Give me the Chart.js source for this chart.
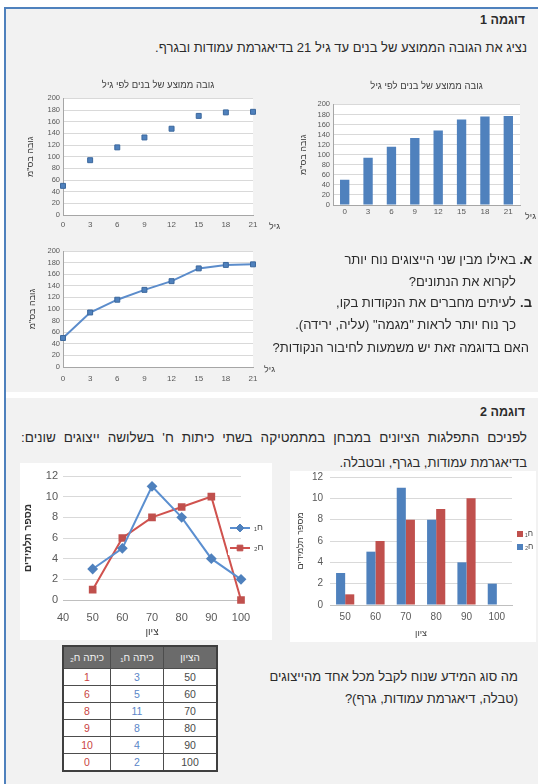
<!DOCTYPE html>
<html lang="he">
<head>
<meta charset="utf-8">
<title>דוגמאות לייצוג נתונים</title>
<script src="https://cdn.jsdelivr.net/npm/chart.js@4.4.1/dist/chart.umd.min.js"></script>
<style>
  html, body { margin: 0; padding: 0; background: #fff; }
  body { width: 538px; height: 784px; position: relative; overflow: hidden;
         font-family: "Liberation Sans", Arial, sans-serif; color: #2b2b2b; }
  .box { position: absolute; left: 6px; width: 532px; background: #f2f2f2; }
  #box1 { top: 9px; height: 383px; }
  #box2 { top: 398px; height: 386px; }
  #edge-left { position: absolute; left: 4px; top: 7px; width: 2px; height: 777px; background: #4f81bd; }
  #edge-top { position: absolute; left: 4px; top: 7px; width: 534px; height: 2px; background: #4f81bd; }
  .t { position: absolute; direction: rtl; white-space: nowrap; font-size: 13px; line-height: 15px; }
  .b { font-weight: bold; font-size: 12.5px; }
  .just { text-align: justify; text-align-last: justify; }
  canvas { position: absolute; }
  .white { background: #fff; }
  .panel { position: absolute; background: #fff; }
  table { position: absolute; border-collapse: collapse; direction: rtl;
          font-family: "Liberation Sans", Arial, sans-serif; background: #fff; border: 2px solid #3f3f3f; }
  th, td { border: 1px solid #4d4d4d; text-align: center; padding: 0; }
  th { background: #6b6b6b; color: #f2f2f2; font-weight: normal; font-size: 10px; height: 21px; }
  td { font-size: 10.5px; height: 16px; color: #4a4a4a; }
  td.ca { color: #5a86c8; }
  td.cb { color: #c9443f; }
</style>
</head>
<body>
<div id="box1" class="box"></div>
<div id="box2" class="box"></div>
<div id="edge-left"></div>
<div id="edge-top"></div>

<div class="t b" style="right:13px; top:13px;">דוגמה 1</div>
<div class="t" style="right:11px; top:40px;">נציג את הגובה הממוצע של בנים עד גיל 21 בדיאגרמת עמודות ובגרף.</div>

<canvas id="barAge" width="244" height="150" style="left:292px; top:76px;"></canvas>
<canvas id="dotAge" width="262" height="160" style="left:20px; top:74px;"></canvas>
<canvas id="lineAge" width="262" height="150" style="left:20px; top:240px;"></canvas>
<div class="t" style="right:2px; top:209px; font-size:9px; color:#404040;">גיל</div>
<div class="t" style="right:258px; top:219px; font-size:9px; color:#404040;">גיל</div>
<div class="t" style="right:263px; top:362px; font-size:9px; color:#404040;">גיל</div>

<div class="t b" style="right:6px; top:252px; font-size:13px;">א.</div>
<div class="t" style="right:22px; top:252px;">באילו מבין שני הייצוגים נוח יותר</div>
<div class="t" style="right:22px; top:274px;">לקרוא את הנתונים?</div>
<div class="t b" style="right:6px; top:295px; font-size:13px;">ב.</div>
<div class="t" style="right:22px; top:295px;">לעיתים מחברים את הנקודות בקו,</div>
<div class="t" style="right:22px; top:317px;">כך נוח יותר לראות "מגמה" (עליה, ירידה).</div>
<div class="t" style="right:9px; top:340px;">האם בדוגמה זאת יש משמעות לחיבור הנקודות?</div>

<div class="t b" style="right:13px; top:405px;">דוגמה 2</div>
<div class="t just" style="right:11px; top:430px; width:506px; font-size:13.5px;">לפניכם התפלגות הציונים במבחן במתמטיקה בשתי כיתות ח' בשלושה ייצוגים שונים:</div>
<div class="t" style="right:11px; top:455px;">בדיאגרמת עמודות, בגרף, ובטבלה.</div>

<div class="panel" style="left:290px; top:471px; width:246px; height:171px;"></div>
<canvas id="barGrades" width="246" height="180" style="left:290px; top:462px;"></canvas>
<canvas id="lineGrades" class="white" width="252" height="177" style="left:20px; top:463px;"></canvas>

<table id="gradeTable" style="left:62px; top:645px; width:156px;"></table>

<div class="t" style="right:20px; top:669px;">מה סוג המידע שנוח לקבל מכל אחד מהייצוגים</div>
<div class="t" style="right:20px; top:691px;">(טבלה, דיאגרמת עמודות, גרף)?</div>

<script>
// Average height of boys by age (cm)
const ages = [0, 3, 6, 9, 12, 15, 18, 21];
const ageLabels = ['0', '3', '6', '9', '12', '15', '18', '21'];
const heightCm = [50, 94, 116, 133, 148, 170, 176, 177];

// Math test grades in two 8th-grade classes
const grades = [50, 60, 70, 80, 90, 100];
const gradeLabels = ['50', '60', '70', '80', '90', '100'];
const classA = [3, 5, 11, 8, 4, 2];
const classB = [1, 6, 8, 9, 10, 0];

const heightTicks = [0, 20, 40, 60, 80, 100, 120, 140, 160, 180, 200];

const BLUE = '#4f81bd';
const RED = '#c0504d';
const FONT = '"Liberation Sans", Arial, sans-serif';
Chart.defaults.font.family = FONT;
Chart.defaults.animation = false;
Chart.defaults.plugins.tooltip.enabled = false;

// white plot area
const plotFill = {
  id: 'plotFill',
  beforeDraw(chart) {
    const { ctx, chartArea: a } = chart;
    ctx.save();
    ctx.fillStyle = '#ffffff';
    ctx.fillRect(a.left, a.top, a.right - a.left, a.bottom - a.top);
    ctx.restore();
  }
};

// keep the chart title centred over the plot area
const titleOverPlot = {
  id: 'titleOverPlot',
  afterLayout(chart) {
    const t = chart.titleBlock;
    const a = chart.chartArea;
    if (t && a) { t.left = a.left; t.right = a.right; t.width = a.right - a.left; }
  }
};

// legend placed at a fixed spot beside the plot
const sideKey = {
  id: 'sideKey',
  afterDraw(chart, args, o) {
    if (!o || !o.order) return;
    const ctx = chart.ctx;
    ctx.save();
    ctx.font = (o.size || 10) + 'px ' + FONT;
    ctx.textBaseline = 'middle';
    ctx.textAlign = 'left';
    o.order.forEach((di, row) => {
      const ds = chart.data.datasets[di];
      const y = o.y + row * o.gap;
      if (o.kind === 'line') {
        ctx.fillStyle = '#fff';
        ctx.fillRect(o.x - 2, y - 7, o.len + 4, 14);
        ctx.strokeStyle = ds.borderColor;
        ctx.lineWidth = 2;
        ctx.beginPath();
        ctx.moveTo(o.x, y);
        ctx.lineTo(o.x + o.len, y);
        ctx.stroke();
        ctx.fillStyle = ds.pointBackgroundColor;
        ctx.strokeStyle = ds.pointBorderColor;
        ctx.lineWidth = 1;
        Chart.helpers.drawPoint(ctx, {
          pointStyle: ds.pointStyle, radius: ds.pointRadius, rotation: 0, borderWidth: 1
        }, o.x + o.len / 2, y);
      } else {
        ctx.fillStyle = ds.backgroundColor;
        ctx.fillRect(o.x, y - 3, 6, 6);
      }
      ctx.fillStyle = o.color || '#404040';
      ctx.fillText(ds.label, o.x + o.len + o.textGap, y);
    });
    ctx.restore();
  }
};

function heightScales(yWidth, xHeight, xPad, titlePad, linearX) {
  const x = {
    ticks: { font: { size: 8 }, color: '#595959', padding: xPad },
    grid: { display: false, drawTicks: false },
    border: { color: '#a6a6a6' },
    afterFit(s) { s.height = xHeight; }
  };
  if (linearX) {
    Object.assign(x, { type: 'linear', min: 0, max: 21 });
    x.ticks.stepSize = 3;
  }
  return {
    x,
    y: {
      min: 0, max: 200,
      afterBuildTicks(s) { s.ticks = heightTicks.map(v => ({ value: v })); },
      ticks: { font: { size: 7.5 }, color: '#595959', padding: 3, autoSkip: false },
      grid: { color: '#d9d9d9', drawTicks: false },
      border: { color: '#a6a6a6' },
      title: { display: true, text: 'גובה בס"מ', font: { size: 9 }, color: '#404040',
               padding: { top: titlePad, bottom: 0 } },
      afterFit(s) { s.width = yWidth; }
    }
  };
}

const ageTitle = 'גובה ממוצע של בנים לפי גיל';

// bar chart: height by age
new Chart(document.getElementById('barAge'), {
  type: 'bar',
  data: {
    labels: ageLabels,
    datasets: [{ data: heightCm, backgroundColor: BLUE, barPercentage: 0.4, categoryPercentage: 1 }]
  },
  options: {
    responsive: false, devicePixelRatio: 1,
    layout: { padding: { top: 3, left: 2, right: 16, bottom: 4 } },
    plugins: {
      legend: { display: false },
      title: { display: true, text: ageTitle, font: { size: 9.5, weight: 'normal' },
               color: '#404040', padding: { top: 2, bottom: 12 } }
    },
    scales: heightScales(39, 17, 2, 4, false)
  },
  plugins: [plotFill, titleOverPlot]
});

// points: height by age
new Chart(document.getElementById('dotAge'), {
  type: 'scatter',
  data: {
    datasets: [{
      data: ages.map((a, i) => ({ x: a, y: heightCm[i] })), clip: false,
      pointStyle: 'rect', pointRadius: 3.5, backgroundColor: BLUE, borderColor: '#3b679c', borderWidth: 1
    }]
  },
  options: {
    responsive: false, devicePixelRatio: 1,
    layout: { padding: { top: 4, left: 2, right: 29, bottom: 2 } },
    plugins: {
      legend: { display: false },
      title: { display: true, text: ageTitle, font: { size: 9.5, weight: 'normal' },
               color: '#404040', padding: { top: 2, bottom: 7 } }
    },
    scales: heightScales(41, 17, 5, 3, true)
  },
  plugins: [plotFill, titleOverPlot]
});

// connected line: height by age
new Chart(document.getElementById('lineAge'), {
  type: 'scatter',
  data: {
    datasets: [{
      data: ages.map((a, i) => ({ x: a, y: heightCm[i] })), clip: false,
      showLine: true, borderColor: '#5b8ccb', borderWidth: 2,
      pointStyle: 'rect', pointRadius: 3.5, pointBackgroundColor: BLUE, pointBorderColor: '#3b679c', pointBorderWidth: 1
    }]
  },
  options: {
    responsive: false, devicePixelRatio: 1,
    layout: { padding: { top: 11, left: 2, right: 29, bottom: 2 } },
    plugins: { legend: { display: false } },
    scales: heightScales(41, 21, 7, 5, true)
  },
  plugins: [plotFill]
});

// grouped bars: grades per class
new Chart(document.getElementById('barGrades'), {
  type: 'bar',
  data: {
    labels: gradeLabels,
    datasets: [
      { label: 'ח₂', data: classA, backgroundColor: BLUE, barPercentage: 1, categoryPercentage: 0.6 },
      { label: 'ח₁', data: classB, backgroundColor: RED, barPercentage: 1, categoryPercentage: 0.6 }
    ]
  },
  options: {
    responsive: false, devicePixelRatio: 1,
    layout: { padding: { top: 15, left: 2, right: 24, bottom: 2 } },
    plugins: {
      legend: { display: false },
      sideKey: { order: [1, 0], x: 227, y: 72, gap: 13, len: 6, textGap: 2, size: 8, kind: 'box' }
    },
    scales: {
      x: {
        ticks: { font: { size: 10 }, color: '#595959', padding: 6 },
        grid: { display: false, drawTicks: false },
        border: { color: '#bfbfbf' },
        title: { display: true, text: 'ציון', font: { size: 9 }, color: '#404040', padding: { top: 0, bottom: 1 } },
        afterFit(s) { s.height = 35; }
      },
      y: {
        min: 0, max: 12,
        ticks: { stepSize: 2, font: { size: 10 }, color: '#595959', padding: 7 },
        grid: { color: '#d9d9d9', drawTicks: false },
        border: { display: false },
        title: { display: true, text: 'מספר תלמידים', font: { size: 9 }, color: '#404040', padding: { top: 3, bottom: 0 } },
        afterFit(s) { s.width = 38; }
      }
    }
  },
  plugins: [plotFill, sideKey]
});

// lines: grades per class
new Chart(document.getElementById('lineGrades'), {
  type: 'scatter',
  data: {
    datasets: [
      { label: 'ח₁', data: grades.map((g, i) => ({ x: g, y: classA[i] })), showLine: true, clip: false,
        borderColor: '#5b8fd0', borderWidth: 2, pointStyle: 'rectRot', pointRadius: 4,
        pointBackgroundColor: '#4f81bd', pointBorderColor: '#4f81bd' },
      { label: 'ח₂', data: grades.map((g, i) => ({ x: g, y: classB[i] })), showLine: true, clip: false,
        borderColor: '#d0524e', borderWidth: 2, pointStyle: 'rect', pointRadius: 4,
        pointBackgroundColor: RED, pointBorderColor: RED }
    ]
  },
  options: {
    responsive: false, devicePixelRatio: 1,
    layout: { padding: { top: 13, left: 2, right: 31, bottom: 2 } },
    plugins: {
      legend: { display: false },
      sideKey: { order: [0, 1], x: 210, y: 65, gap: 20, len: 20, textGap: 4, size: 9, kind: 'line' }
    },
    scales: {
      x: {
        type: 'linear', min: 40, max: 100,
        ticks: { stepSize: 10, font: { size: 11 }, color: '#595959', padding: 11 },
        grid: { display: false, drawTicks: false },
        border: { color: '#bfbfbf' },
        title: { display: true, text: 'ציון', font: { size: 10 }, color: '#404040', padding: { top: 0, bottom: 0 } },
        afterFit(s) { s.height = 38; }
      },
      y: {
        min: 0, max: 12,
        ticks: { stepSize: 2, font: { size: 11 }, color: '#595959', padding: 5 },
        grid: { color: '#d9d9d9', drawTicks: false },
        border: { display: false },
        title: { display: true, text: 'מספר תלמידים', font: { size: 10, weight: 'bold' }, color: '#333',
                 padding: { top: 0, bottom: 0 } },
        afterFit(s) { s.width = 41; }
      }
    }
  },
  plugins: [plotFill, sideKey]
});

// grade table built from the same arrays
(function buildTable() {
  const t = document.getElementById('gradeTable');
  let html = '<tr><th style="width:52px">הציון</th><th style="width:52px">כיתה ח₁</th><th>כיתה ח₂</th></tr>';
  grades.forEach((g, i) => {
    html += '<tr><td>' + g + '</td><td class="ca">' + classA[i] + '</td><td class="cb">' + classB[i] + '</td></tr>';
  });
  t.innerHTML = html;
})();
</script>
</body>
</html>
